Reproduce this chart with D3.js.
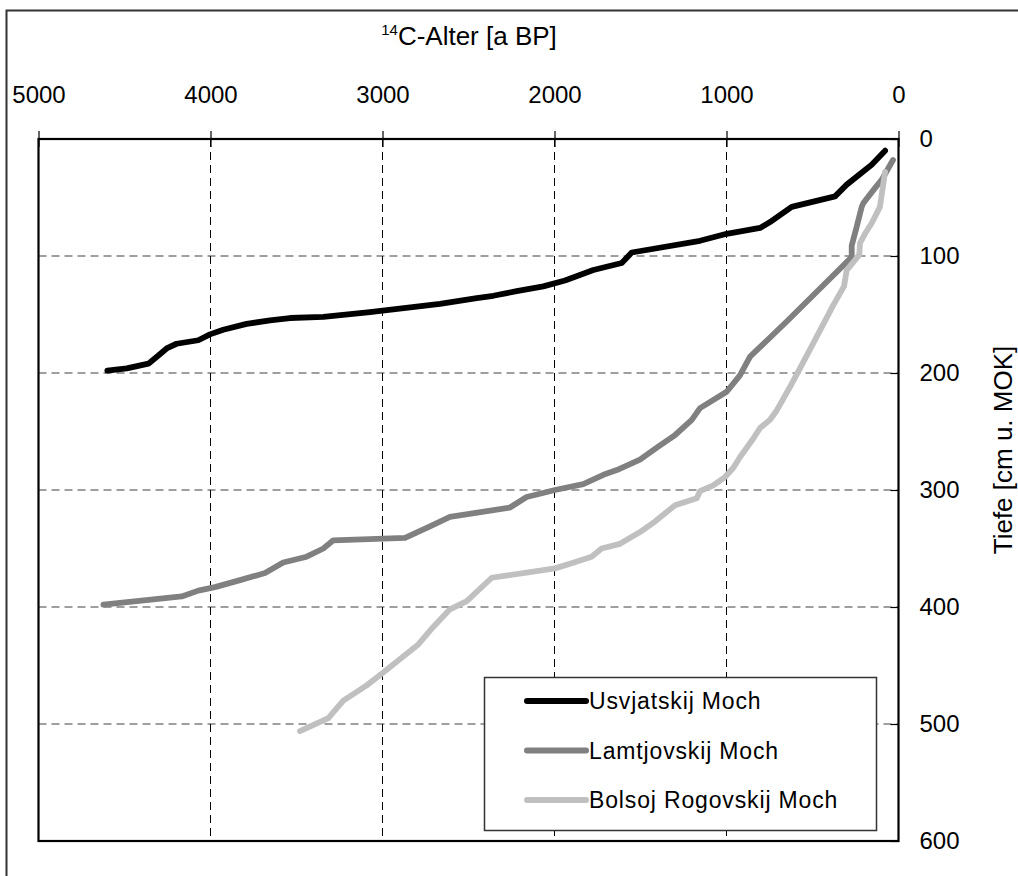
<!DOCTYPE html>
<html>
<head>
<meta charset="utf-8">
<script src="https://cdn.jsdelivr.net/npm/d3@7"></script>
<style>
  html, body { margin: 0; padding: 0; background: #fff; }
  svg { display: block; font-family: Arial, "Liberation Sans", sans-serif; }
</style>
</head>
<body>
<svg id="chart" width="1018" height="876"></svg>
<script>
// 14C age (a BP) against depth (cm below peat surface) for three mires
const seriesNames = ["Usvjatskij Moch", "Lamtjovskij Moch", "Bolsoj Rogovskij Moch"];
const seriesColors = ["#000000", "#808080", "#c0c0c0"];

const usvjatskijAge   = [78, 156, 301, 369, 621, 747, 805, 999, 1154, 1551, 1609, 1774, 1939, 2065, 2220, 2356, 2452, 2666, 3073, 3344, 3538, 3654, 3790, 3926, 4003, 4071, 4197, 4255, 4303, 4361, 4487, 4600];
const usvjatskijDepth = [10, 22, 39, 49, 58, 71, 76, 81, 87, 97, 106, 112, 121, 126, 130, 134, 136, 141, 148, 152, 153, 155, 158, 163, 167, 172, 175, 179, 185, 192, 196, 198];

const lamtjovskijAge   = [32, 98, 137, 205, 214, 243, 272, 272, 437, 650, 863, 922, 999, 1154, 1202, 1299, 1397, 1503, 1638, 1716, 1833, 1997, 2162, 2259, 2608, 2724, 2869, 3286, 3344, 3441, 3577, 3683, 3828, 3974, 4071, 4167, 4623];
const lamtjovskijDepth = [18, 35, 42, 55, 58, 75, 91, 101, 125, 156, 186, 202, 216, 230, 240, 253, 263, 274, 283, 287, 295, 300, 306, 315, 323, 331, 341, 343, 350, 357, 362, 371, 377, 383, 386, 391, 398];

const rogovskijAge   = [78, 108, 156, 195, 224, 228, 301, 317, 379, 515, 631, 708, 747, 805, 844, 922, 960, 1009, 1077, 1154, 1173, 1299, 1416, 1503, 1619, 1726, 1784, 1910, 1997, 2365, 2510, 2608, 2705, 2792, 3005, 3092, 3228, 3315, 3480];
const rogovskijDepth = [28, 58, 72, 81, 89, 99, 112, 126, 142, 180, 212, 232, 240, 247, 256, 272, 281, 289, 296, 301, 307, 313, 327, 336, 346, 350, 357, 363, 367, 375, 395, 402, 417, 432, 457, 467, 480, 495, 506];

const ageTicks   = [5000, 4000, 3000, 2000, 1000, 0];
const depthTicks = [0, 100, 200, 300, 400, 500, 600];

const series = [
  { name: seriesNames[0], color: seriesColors[0], ages: usvjatskijAge,  depths: usvjatskijDepth },
  { name: seriesNames[1], color: seriesColors[1], ages: lamtjovskijAge, depths: lamtjovskijDepth },
  { name: seriesNames[2], color: seriesColors[2], ages: rogovskijAge,   depths: rogovskijDepth }
];

const svg = d3.select("#chart");
const plot = { left: 38.5, right: 898.5, top: 139, bottom: 841 };

const x = d3.scaleLinear().domain([5000, 0]).range([plot.left, plot.right]);
const y = d3.scaleLinear().domain([0, 600]).range([plot.top, plot.bottom]);

// outer chart frame
svg.append("rect")
  .attr("x", 6.5).attr("y", 10.5)
  .attr("width", 1100).attr("height", 1000)
  .attr("fill", "none").attr("stroke", "#333").attr("stroke-width", 2);

// horizontal grid (depth)
svg.append("g")
  .selectAll("line")
  .data(depthTicks.filter(d => d > 0 && d < 600))
  .join("line")
  .attr("x1", plot.left).attr("x2", plot.right)
  .attr("y1", d => y(d)).attr("y2", d => y(d))
  .attr("stroke", "#808080").attr("stroke-width", 1.5)
  .attr("stroke-dasharray", "8,5");

// vertical grid (age)
svg.append("g")
  .selectAll("line")
  .data(ageTicks.filter(d => d > 0 && d < 5000))
  .join("line")
  .attr("x1", d => x(d)).attr("x2", d => x(d))
  .attr("y1", plot.top).attr("y2", plot.bottom)
  .attr("stroke", "#000").attr("stroke-width", 1)
  .attr("stroke-dasharray", "8,5");

// top age axis
const topAxis = d3.axisTop(x).tickValues(ageTicks).tickSizeOuter(0).tickSizeInner(8).tickPadding(28)
  .tickFormat(d3.format("d"));
const gTop = svg.append("g").attr("transform", `translate(0,${plot.top})`).call(topAxis);
gTop.select(".domain").remove();
gTop.selectAll(".tick line").attr("y2", 8).attr("y1", -8).attr("stroke", "#000").attr("stroke-width", 1.2);
gTop.selectAll(".tick text").attr("font-size", 24).attr("fill", "#000")
  .attr("font-family", "Arial, 'Liberation Sans', sans-serif");

// right depth axis
const rightAxis = d3.axisRight(y).tickValues(depthTicks).tickSizeOuter(0).tickSizeInner(0).tickPadding(21)
  .tickFormat(d3.format("d"));
const gRight = svg.append("g").attr("transform", `translate(${plot.right},0)`).call(rightAxis);
gRight.select(".domain").remove();
gRight.selectAll(".tick line").attr("x1", -8).attr("x2", 0).attr("stroke", "#000").attr("stroke-width", 1.2);
gRight.selectAll(".tick text").attr("font-size", 24).attr("fill", "#000")
  .attr("font-family", "Arial, 'Liberation Sans', sans-serif");

// plot area border
svg.append("rect")
  .attr("x", plot.left).attr("y", plot.top)
  .attr("width", plot.right - plot.left).attr("height", plot.bottom - plot.top)
  .attr("fill", "none").attr("stroke", "#000").attr("stroke-width", 2.2);

// age-depth curves
const line = d3.line().x(d => x(d[0])).y(d => y(d[1]));
svg.append("g")
  .selectAll("path")
  .data(series)
  .join("path")
  .attr("d", s => line(s.ages.map((a, i) => [a, s.depths[i]])))
  .attr("fill", "none")
  .attr("stroke", s => s.color)
  .attr("stroke-width", 5.8)
  .attr("stroke-linejoin", "round")
  .attr("stroke-linecap", "round");

// axis titles
const topTitle = svg.append("text")
  .attr("x", 469).attr("y", 45)
  .attr("text-anchor", "middle")
  .attr("font-size", 26).attr("fill", "#000");
topTitle.append("tspan").attr("font-size", 15).attr("dy", -10).text("14");
topTitle.append("tspan").attr("dy", 10).text("C-Alter [a BP]");

svg.append("text")
  .attr("transform", "translate(1012,450) rotate(-90)")
  .attr("text-anchor", "middle")
  .attr("font-size", 26).attr("fill", "#000")
  .text("Tiefe [cm u. MOK]");

// legend
const legend = svg.append("g");
legend.append("rect")
  .attr("x", 484.5).attr("y", 677.5).attr("width", 392).attr("height", 153)
  .attr("fill", "#fff").attr("stroke", "#333").attr("stroke-width", 1.5);
const rows = legend.selectAll("g.item")
  .data(series)
  .join("g").attr("class", "item")
  .attr("transform", (d, i) => `translate(0,${701 + i * 49.5})`);
rows.append("line")
  .attr("x1", 527).attr("x2", 586)
  .attr("stroke", d => d.color).attr("stroke-width", 6)
  .attr("stroke-linecap", "round");
rows.append("text")
  .attr("x", 589).attr("y", 0).attr("dy", "0.35em")
  .attr("font-size", 23).attr("letter-spacing", 0.85).attr("fill", "#000")
  .text(d => d.name);
</script>
</body>
</html>
